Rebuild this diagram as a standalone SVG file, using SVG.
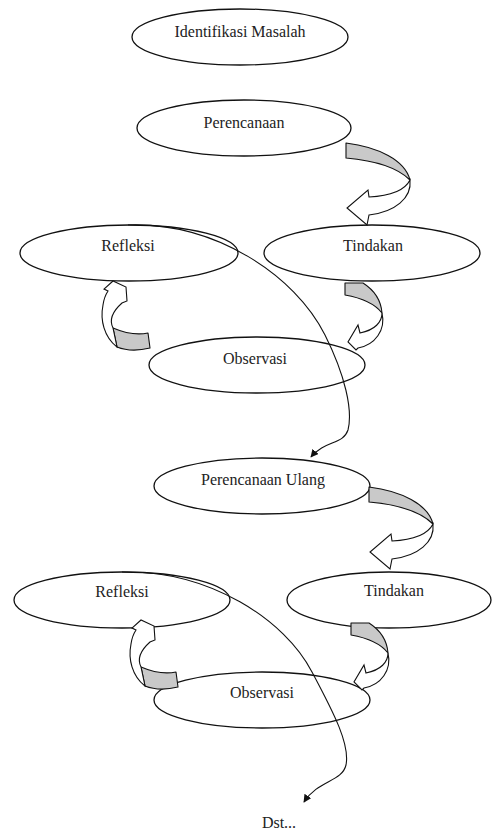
<svg xmlns="http://www.w3.org/2000/svg" width="492" height="830" viewBox="0 0 492 830">
<style>
.node ellipse{fill:#fff;stroke:#111;stroke-width:1.3}
text{font-family:"Liberation Serif","Times New Roman",serif;font-size:16px;fill:#222;text-anchor:middle}
.back{fill:#c9c9c9;stroke:#111;stroke-width:1.1;stroke-linejoin:round}
.front{fill:#fff;stroke:#111;stroke-width:1.1;stroke-linejoin:miter}
.flow{fill:none;stroke:#111;stroke-width:1.1}
</style>
<defs>
<marker id="tip" viewBox="0 0 10 10" refX="9" refY="5" markerWidth="8" markerHeight="8" markerUnits="userSpaceOnUse" orient="auto">
<path d="M0,0 L10,5 L0,10 Z" fill="#111"/>
</marker>
<g id="curlA">
<path class="back" d="M346,143 C378,147 405,160 410,180 C400,170 380,161 346,158 Z"/>
<path class="front" d="M410,180 C412,198 395,212 369,215 L367,225 L347,208 L368,190 L369,197 C390,196 405,190 410,180 Z"/>
</g>
<g id="curlB">
<path class="back" d="M345,283 L363,283 C374,290 381,300 382,313 C375,304 362,298 345,295 Z"/>
<path class="front" d="M382,313 C382,322 375,330 360,333 L358,325 L348,342 L356,350 L358,348 C375,345 386,330 382,313 Z"/>
</g>
<g id="curlC">
<path class="back" d="M113,328 C127,334 138,335 148,333 L150,348 C138,351 127,351 117,347 Z"/>
<path class="front" d="M117,347 C104,337 100,320 103,305 C104,298 106,294 108,291 L104,289 L113,281 L126,287 L127,301 L122,303 C113,311 109,320 113,328 Z"/>
</g>
</defs>
<rect width="492" height="830" fill="#fff"/>
<g id="n-identifikasi" class="node"><ellipse cx="240" cy="37" rx="108" ry="28"/><text x="240" y="37">Identifikasi Masalah</text></g>
<g id="n-perencanaan" class="node"><ellipse cx="244" cy="128" rx="107" ry="28"/><text x="244" y="128">Perencanaan</text></g>
<g id="n-refleksi1" class="node"><ellipse cx="129" cy="253" rx="109" ry="28"/><text x="128" y="251">Refleksi</text></g>
<g id="n-tindakan1" class="node"><ellipse cx="372" cy="253" rx="108" ry="28"/><text x="373" y="251">Tindakan</text></g>
<g id="n-observasi1" class="node"><ellipse cx="257" cy="365" rx="108" ry="28"/><text x="255" y="364">Observasi</text></g>
<g id="n-perencanaan-ulang" class="node"><ellipse cx="262" cy="486" rx="108" ry="28"/><text x="263" y="485">Perencanaan Ulang</text></g>
<g id="n-refleksi2" class="node"><ellipse cx="122" cy="600" rx="108" ry="28"/><text x="122" y="597">Refleksi</text></g>
<g id="n-tindakan2" class="node"><ellipse cx="389" cy="600" rx="102" ry="28"/><text x="394" y="596">Tindakan</text></g>
<g id="n-observasi2" class="node"><ellipse cx="262" cy="700" rx="108" ry="28"/><text x="262" y="698">Observasi</text></g>
<g id="connectors">
<use href="#curlA"/>
<use href="#curlB"/>
<use href="#curlC"/>
<use href="#curlA" transform="translate(23,344)"/>
<use href="#curlB" transform="translate(6,340)"/>
<use href="#curlC" transform="translate(28,339)"/>
<path class="flow" marker-end="url(#tip)" d="M128,225 C215,222 295,275 325,335 C345,375 353,410 348,430 C343,445 325,440 311,457"/>
<path class="flow" marker-end="url(#tip)" d="M122,572 C210,570 285,620 312,672 C335,715 350,745 346,765 C342,782 318,780 304,802"/>
</g>
<text x="279" y="828">Dst...</text>
</svg>
